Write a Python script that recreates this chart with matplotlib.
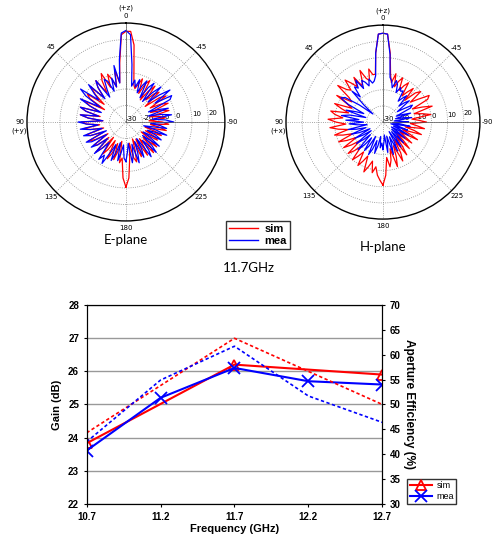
import numpy as np
import matplotlib.pyplot as plt
from matplotlib.lines import Line2D

# radiation pattern angles (deg), 0 = +z, counter-clockwise positive
ang = np.arange(-180, 181, 3)

# E-plane, dB (rows start at -180, -150, ... , 150, last value is 180)
e_sim = [9.5, 4, -8, -17, -8, -5, -12, -19, -7, -10,
         -18, -6, -11, -17, -5, -9, -16, -6, -12, -19,
         -8, -10, -17, -7, -11, -18, -5, -9, -15, -4,
         -8, -16, -6, -9, -15, -3, -7, -14, -2, -6,
         -13, -1, -5, -15, -3, -6, -12, -2, -7, -14,
         -1, -4, -11, -2, -6, -9, -7, 1, 17, 25,
         25, 23, 6, -6, 2, -8, -3, 1, -7, 3,
         -1, -9, 1, -3, -10, 0, -5, -13, -1, -4,
         -15, -2, -6, -13, -1, -5, -14, -2, -7, -16,
         -3, -6, -14, -4, -8, -16, -5, -7, -15, -4,
         -9, -17, -6, -8, -16, -4, -9, -18, -6, -10,
         -17, -5, -9, -16, -6, -12, -18, -5, -8, 4,
         9.5]
e_mea = [-6, -12, -17, -5, -9, -16, -4, -10, -17, -6,
         -11, -18, -4, -8, -15, -4, -9, -17, -5, -12,
         -18, -6, -10, -16, -4, -11, -19, -5, -9, -15,
         -1, -6, -14, -2, -8, -16, -3, -9, -15, 0,
         2, -9, 3, -4, -12, 0, -6, -14, -1, -5,
         -13, -2, -6, -11, -3, -8, -4, -8, 5, 23,
         25.5, 24, 8, -6, 5, -8, -2, -10, -3, -1,
         -7, -12, 1, -3, -11, 2, -4, -9, 4, -1,
         -12, 1, -6, -14, -1, -5, -13, -2, -7, -16,
         -1, -6, -13, -2, -8, -15, -3, -7, -17, -3,
         -6, -16, -4, -8, -15, -3, -9, -14, -2, -6,
         -1, -9, -15, -5, -10, -17, -6, -11, -16, -8,
         -6]

# H-plane, dB
h_sim = [9, 3, -8, -2, -6, -13, -1, -7, -14, -3,
         -8, -17, -5, -11, -18, -7, -13, -19, -8, -14,
         -18, -6, -12, -17, -5, -10, -16, -4, -9, -13,
         -3, -8, -12, 0, -5, -10, 2, -4, -10, 1,
         3, -4, -9, 0, -3, -11, -2, -6, -10, -1,
         -4, -8, 0, -3, -7, 1, -5, 0, 13, 24.5,
         25, 24.5, 13, 0, 0, 4, -3, -1, 5, -2,
         -4, 3, -3, 1, 5, -2, 0, 6, -4, -7,
         3, -5, -9, 2, -3, -8, 3, 0, -5, 4,
         -1, -7, 3, -2, -8, 1, -4, -10, 0, -5,
         -11, -1, -6, -12, -1, -5, -10, 0, -4, -8,
         1, -3, -7, 3, -1, -5, 2, -2, 3, 6,
         9]
h_mea = [-13, -18, -22, -11, -16, -21, -9, -15, -20, -10,
         -16, -23, -11, -17, -22, -12, -18, -23, -13, -19,
         -24, -12, -18, -23, -14, -20, -25, -13, -19, -24,
         -14, -19, -23, -12, -17, -22, -12, -17, -21, -11,
         -9, -15, -19, -9, -12, -16, -8, -11, -14, -7,
         -8, -6, -10, -5, -3, -8, -4, -2, 12, 24.5,
         25, 24.5, 13, -1, -4, -5, -2, -6, -3, -1,
         -6, 1, -4, -2, -9, -3, -14, -22, -12, -2,
         0, -6, -17, -12, -6, -19, -9, -4, -15, -7,
         -18, -9, -14, -20, -8, -13, -19, -9, -14, -21,
         -10, -15, -21, -9, -14, -19, -7, -12, -18, -9,
         -13, -20, -8, -12, -18, -10, -15, -21, -14, -17,
         -13]

theta_ticks = [0, 45, 90, 135, 180, 225, 270, 315]
theta_labels = ['0', '45', '90', '135', '180', '225', '-90', '-45']
r_ticks = [-30, -20, -10, 0, 10, 20]

# gain / efficiency vs frequency
freq_ticks = [10.7, 11.2, 11.7, 12.2, 12.7]
freq_sim = [10.7, 11.7, 12.7]
gain_sim = [23.83, 26.2, 25.9]
eff_sim = [44.3, 63.3, 50.0]
freq_mea = [10.7, 11.2, 11.7, 12.2, 12.7]
gain_mea = [23.61, 25.2, 26.1, 25.7, 25.6]
eff_mea = [42.5, 54.9, 61.7, 51.7, 46.4]

fig = plt.figure(figsize=(4.96, 5.41), dpi=100)


def polar_panel(rect, sim, mea, side):
    ax = fig.add_axes(rect, projection='polar')
    ax.set_theta_zero_location('N')
    ax.set_theta_direction(1)
    th = np.deg2rad(ang)
    ax.plot(th, sim, color='red', lw=0.9)
    ax.plot(th, mea, color='blue', lw=0.9)
    ax.set_ylim(-30, 30)
    ax.set_yticks(r_ticks)
    ax.set_yticklabels([str(r) for r in r_ticks], fontsize=5)
    ax.set_rlabel_position(-86)
    ax.set_thetagrids(theta_ticks, [''] * len(theta_ticks))
    for t, lab in zip(theta_ticks, theta_labels):
        ax.text(np.deg2rad(t), 34.5, lab, ha='center', va='center', fontsize=5)
    ax.grid(ls=':', lw=0.6, color='#888888')
    ax.plot([0, 0], [-30, 30], color='#555555', lw=0.5)
    ax.plot([-np.pi / 2] * 2, [-30, 30], color='#555555', lw=0.5)
    ax.spines['polar'].set_linewidth(1.0)
    ax.text(0, 39, '(+z)', ha='center', va='center', fontsize=5)
    ax.text(-0.04, 0.455, side, transform=ax.transAxes, ha='center', va='center', fontsize=5)
    return ax


polar_panel([0.0544, 0.5915, 0.399, 0.366], e_sim, e_mea, '(+y)')
polar_panel([0.5766, 0.595, 0.391, 0.3586], h_sim, h_mea, '(+x)')

fig.text(126 / 496, 1 - 240 / 541, 'E-plane', ha='center', va='center', fontsize=9.5, family='Lato')
fig.text(383 / 496, 1 - 247 / 541, 'H-plane', ha='center', va='center', fontsize=9.5, family='Lato')
fig.text(249 / 496, 1 - 268 / 541, '11.7GHz', ha='center', va='center', fontsize=9.5, family='Lato')

handles = [Line2D([], [], color='red', lw=1), Line2D([], [], color='blue', lw=1)]
leg = fig.legend(handles, ['sim', 'mea'], loc='upper left', bbox_to_anchor=(220 / 496, 1 - 215 / 541),
                 prop={'family': 'Liberation Sans', 'weight': 'bold', 'size': 8},
                 fancybox=False, edgecolor='black', handlelength=2.6, borderpad=0.3,
                 labelspacing=0.2, handletextpad=0.6)
leg.get_frame().set_linewidth(1.0)

# gain / efficiency chart
font = {'family': 'Liberation Sans', 'weight': 'bold'}
ax = fig.add_axes([0.1747, 0.0684, 0.596, 0.368])
ax.plot(freq_sim, gain_sim, color='red', lw=1.5, marker='^', mfc='none', mew=1.3, ms=7)
ax.plot(freq_mea, gain_mea, color='blue', lw=1.5, marker='x', mew=1.3, ms=8)
ax.set_xlim(10.7, 12.7)
ax.set_ylim(22, 28)
ax.set_xticks(freq_ticks)
ax.set_xticklabels([str(f) for f in freq_ticks], fontdict=font, fontsize=7)
ax.set_yticks(range(22, 29))
ax.set_yticklabels([str(v) for v in range(22, 29)], fontdict=font, fontsize=7)
ax.grid(axis='y', color='#999999', lw=1)
ax.set_axisbelow(True)
ax.tick_params(length=2)
ax.set_xlabel('Frequency (GHz)', fontdict=font, fontsize=8, labelpad=2)
ax.set_ylabel('Gain (dB)', fontdict=font, fontsize=8, labelpad=4)

ax2 = ax.twinx()
ax2.plot(freq_sim, eff_sim, color='red', lw=1.2, ls=(0, (2, 1.5)))
ax2.plot(freq_mea, eff_mea, color='blue', lw=1.2, ls=(0, (2, 1.5)))
ax2.set_ylim(30, 70)
ax2.set_yticks(range(30, 71, 5))
ax2.set_yticklabels([str(v) for v in range(30, 71, 5)], fontdict=font, fontsize=7)
ax2.tick_params(length=2)
ax2.set_ylabel('Aperture Efficiency (%)', fontdict=font, fontsize=8.5, rotation=270, labelpad=10)

h2 = [Line2D([], [], color='red', lw=1.5, marker='^', mfc='none', mew=1.3, ms=7),
      Line2D([], [], color='blue', lw=1.5, marker='x', mew=1.3, ms=8)]
leg2 = ax.legend(h2, ['sim', 'mea'], loc='lower left', bbox_to_anchor=(1.085, 0.0),
                 prop={'family': 'Liberation Sans', 'size': 6.5}, fancybox=False,
                 edgecolor='black', handlelength=2.4, borderpad=0.3, labelspacing=0.2,
                 handletextpad=0.5, borderaxespad=0)
leg2.get_frame().set_linewidth(1.0)

fig.savefig('out.png', dpi=100)
